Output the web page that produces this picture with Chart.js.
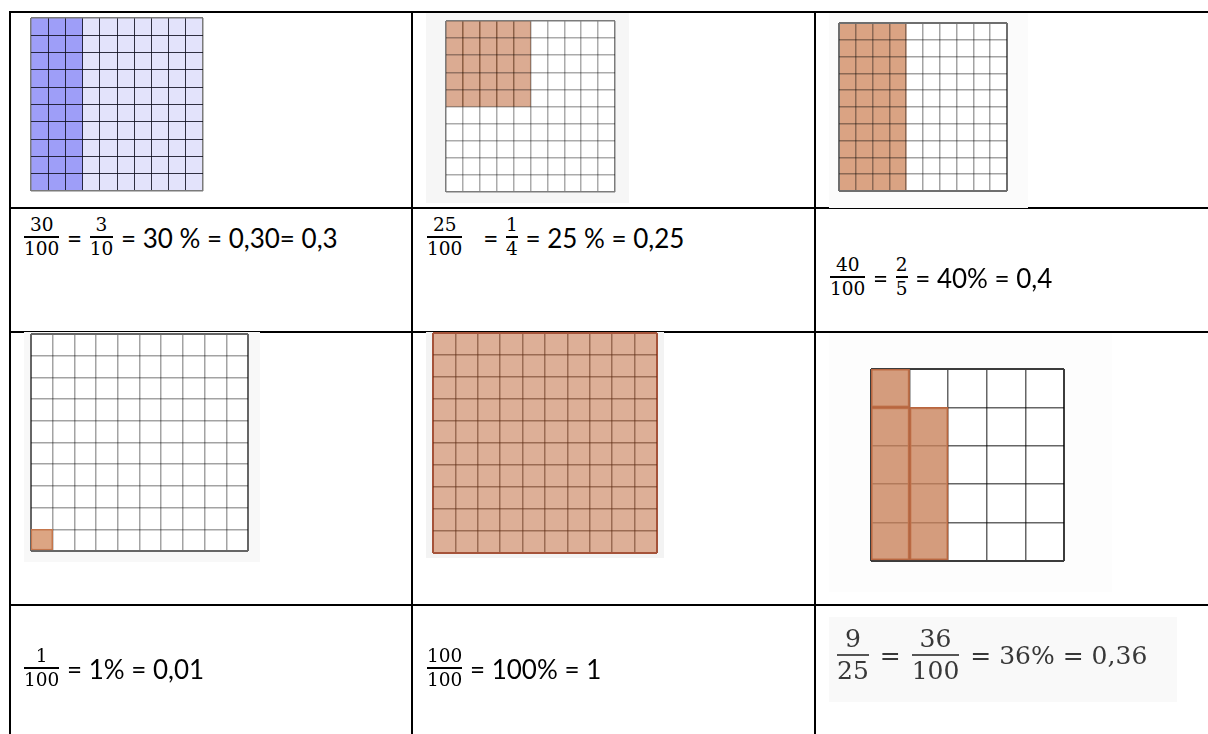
<!DOCTYPE html>
<html>
<head>
<meta charset="utf-8">
<script src="https://cdn.jsdelivr.net/npm/chart.js@4.4.1/dist/chart.umd.min.js"></script>
<style>
html,body{margin:0;padding:0;background:#fff;}
#page{position:relative;width:1208px;height:734px;overflow:hidden;background:#fff;}
.h{position:absolute;height:2px;background:#000;}
.v{position:absolute;width:2px;background:#000;}
canvas{position:absolute;}
.box{position:absolute;}
.line{position:absolute;height:0;display:flex;align-items:center;white-space:pre;}
.t{font-family:Lato,"Open Sans",sans-serif;font-size:26px;line-height:1;color:#000;position:relative;top:1px;}
.frac{display:inline-flex;flex-direction:column;align-items:center;font-family:"DejaVu Serif",serif;font-size:18.5px;line-height:22px;color:#000;padding:0 1px;}
.frac .bar{align-self:stretch;height:1.5px;background:#000;}
.big .t{font-family:"DejaVu Serif",serif;font-size:25px;color:#383838;top:0;}
.big .frac{font-size:25px;line-height:30px;color:#383838;padding:0 3px;}
.big .frac .bar{height:2.5px;background:#555;}
</style>
</head>
<body>
<div id="page">
  <canvas id="g1" width="192" height="184" style="left:18px;top:13px"></canvas>
  <canvas id="g2" width="203" height="190" style="left:426px;top:13px"></canvas>
  <canvas id="g3" width="199" height="195" style="left:829px;top:13px"></canvas>
  <div class="h" style="left:9px;top:331px;width:1199px"></div>
  <canvas id="g4" width="236" height="230" style="left:24px;top:332px"></canvas>
  <canvas id="g5" width="238" height="226" style="left:426px;top:332px"></canvas>
  <canvas id="g6" width="283" height="259" style="left:829px;top:333px"></canvas>
  <div class="box" style="left:829px;top:617px;width:348px;height:85px;background:#f9f9f9"></div>

  <div class="h" style="left:9px;top:11px;width:1199px"></div>
  <div class="h" style="left:9px;top:207px;width:820px"></div>
  <div class="h" style="left:829px;top:208px;width:199px;height:1px"></div>
  <div class="h" style="left:1028px;top:207px;width:180px"></div>
  <div class="h" style="left:9px;top:604px;width:1199px"></div>
  <div class="v" style="left:9px;top:11px;height:723px"></div>
  <div class="v" style="left:411px;top:11px;height:723px"></div>
  <div class="v" style="left:814px;top:11px;height:723px"></div>

  <div id="texts"></div>
</div>
<script>
// ---- data ----
const cols10 = ['1','2','3','4','5','6','7','8','9','10'];
const cols5 = ['1','2','3','4','5'];
const rows10 = 10;
const rows5 = 5;
// 30/100 : three full columns
const shaded30 = [[0,10],[0,10],[0,10],null,null,null,null,null,null,null];
// 25/100 : 5 x 5 block top-left
const shaded25 = [[5,10],[5,10],[5,10],[5,10],[5,10],null,null,null,null,null];
// 40/100 : four full columns
const shaded40 = [[0,10],[0,10],[0,10],[0,10],null,null,null,null,null,null];
// 1/100 : one cell
const shaded1 = [[0,1],null,null,null,null,null,null,null,null,null];
// 100/100 : everything
const shaded100 = [[0,10],[0,10],[0,10],[0,10],[0,10],[0,10],[0,10],[0,10],[0,10],[0,10]];
// 9/25 : 4 + 4 block and one top cell
const shaded36Block = [[0,4],[0,4],null,null,null];
const shaded36Top = [[4,5],null,null,null,null];

// text rows: [numerator, denominator] pairs and plain strings
const text1 = [['30','100'],' = ',['3','10'],' = 30 % = 0,30= 0,3'];
const text2 = [['25','100'],'   = ',['1','4'],' = 25 % = 0,25'];
const text3 = [['40','100'],' = ',['2','5'],' = 40% = 0,4'];
const text4 = [['1','100'],' = 1% = 0,01'];
const text5 = [['100','100'],' = 100% = 1'];
const text6 = [['9','25'],' = ',['36','100'],' = 36% = 0,36'];

// ---- drawing ----
const bgPlugin = {
  id: 'pageBg',
  beforeDraw(chart, args, o) {
    const c = chart.ctx, a = chart.chartArea;
    c.save();
    c.fillStyle = o.color; c.fillRect(0, 0, chart.width, chart.height);
    c.fillStyle = o.area; c.fillRect(a.left, a.top, a.right - a.left, a.bottom - a.top);
    c.restore();
  }
};

function gridChart(id, cfg) {
  const nRows = cfg.rows;
  const edgeX = ctx => ctx.type !== 'tick' || ctx.index === 0;
  const edgeY = ctx => ctx.tick && (ctx.tick.value === 0 || ctx.tick.value === nRows);
  new Chart(document.getElementById(id), {
    type: 'bar',
    data: {
      labels: cfg.labels,
      datasets: cfg.sets.map(s => ({
        data: s.data,
        backgroundColor: s.color,
        borderColor: s.border || 'rgba(0,0,0,0)',
        borderWidth: s.bw || 0,
        borderSkipped: false,
        barPercentage: 1,
        categoryPercentage: 1,
        grouped: false
      }))
    },
    options: {
      responsive: false,
      animation: false,
      events: [],
      layout: { padding: cfg.pad },
      plugins: {
        legend: { display: false },
        tooltip: { enabled: false },
        pageBg: { color: cfg.bg, area: cfg.area }
      },
      scales: {
        x: {
          offset: true,
          ticks: { display: false },
          border: { display: false },
          grid: { z: cfg.z, offset: true, drawTicks: false,
            color: ctx => edgeX(ctx) ? cfg.frame : cfg.line,
            lineWidth: ctx => edgeX(ctx) ? cfg.frameW : cfg.lineW }
        },
        y: {
          min: 0, max: nRows,
          ticks: { display: false, stepSize: 1 },
          border: { display: false },
          grid: { z: cfg.z, drawTicks: false,
            color: ctx => edgeY(ctx) ? cfg.frame : cfg.line,
            lineWidth: ctx => edgeY(ctx) ? cfg.frameW : cfg.lineW }
        }
      }
    },
    plugins: [bgPlugin]
  });
}

gridChart('g1', { labels: cols10, rows: rows10, z: 1,
  pad: { left: 13, top: 5, right: 7, bottom: 6 },
  bg: '#ffffff', area: '#e3e3fb', frame: '#7a7a7a', frameW: 1.5, line: 'rgba(15,15,30,0.85)', lineW: 1,
  sets: [{ data: shaded30, color: '#9e9ef8' }] });

gridChart('g2', { labels: cols10, rows: rows10, z: 1,
  pad: { left: 20, top: 8, right: 14, bottom: 11 },
  bg: '#f6f6f6', area: '#ffffff', frame: '#7c7c7c', frameW: 1.5, line: 'rgba(0,0,0,0.33)', lineW: 1.5,
  sets: [{ data: shaded25, color: '#dbab92', border: '#d08a62', bw: 1 }] });

gridChart('g3', { labels: cols10, rows: rows10, z: 1,
  pad: { left: 10, top: 10, right: 21, bottom: 17 },
  bg: '#fbfbfb', area: '#ffffff', frame: '#6e6e6e', frameW: 2, line: 'rgba(0,0,0,0.36)', lineW: 1.5,
  sets: [{ data: shaded40, color: '#daa383' }] });

gridChart('g4', { labels: cols10, rows: rows10, z: -1,
  pad: { left: 7, top: 2, right: 12, bottom: 11 },
  bg: '#f8f8f8', area: '#ffffff', frame: '#666666', frameW: 2, line: 'rgba(0,0,0,0.36)', lineW: 1.5,
  sets: [{ data: shaded1, color: '#dca583', border: '#c4764c', bw: 1.5 }] });

gridChart('g5', { labels: cols10, rows: rows10, z: 1,
  pad: { left: 7, top: 1, right: 7, bottom: 5 },
  bg: '#f3f3f3', area: '#ffffff', frame: '#a5533a', frameW: 2, line: 'rgba(90,40,15,0.5)', lineW: 1.5,
  sets: [{ data: shaded100, color: '#ddaf97' }] });

gridChart('g6', { labels: cols5, rows: rows5, z: -1,
  pad: { left: 42, top: 36, right: 48, bottom: 31 },
  bg: '#fdfdfd', area: '#ffffff', frame: '#3c3c3c', frameW: 2, line: 'rgba(0,0,0,0.6)', lineW: 1.5,
  sets: [{ data: shaded36Block, color: 'rgba(200,128,88,0.78)', border: '#b86640', bw: 1.5 },
         { data: shaded36Top, color: 'rgba(200,128,88,0.78)', border: '#b86640', bw: 1.5 }] });

// ---- text ----
function addLine(parts, left, top, cls) {
  const line = document.createElement('div');
  line.className = 'line' + (cls ? ' ' + cls : '');
  line.style.left = left + 'px';
  line.style.top = top + 'px';
  parts.forEach(p => {
    if (Array.isArray(p)) {
      const f = document.createElement('span'); f.className = 'frac';
      const n = document.createElement('span'); n.textContent = p[0];
      const b = document.createElement('span'); b.className = 'bar';
      const d = document.createElement('span'); d.textContent = p[1];
      f.append(n, b, d); line.appendChild(f);
    } else {
      const s = document.createElement('span'); s.className = 't'; s.textContent = p;
      line.appendChild(s);
    }
  });
  document.getElementById('texts').appendChild(line);
}
addLine(text1, 23, 237);
addLine(text2, 426, 237);
addLine(text3, 829, 277);
addLine(text4, 23, 668);
addLine(text5, 426, 668);
addLine(text6, 834, 655, 'big');
</script>
</body>
</html>
